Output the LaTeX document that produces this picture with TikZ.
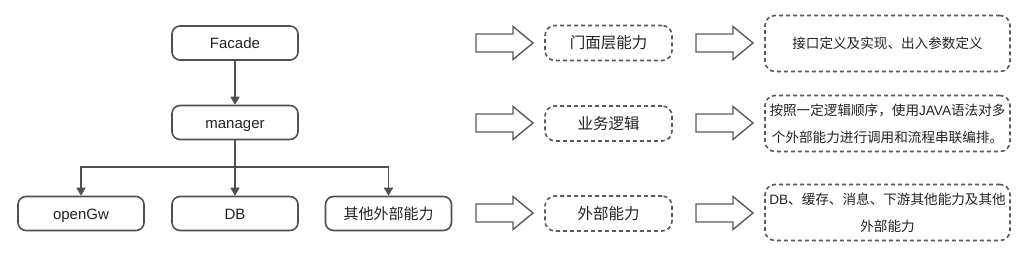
\documentclass[tikz,border=0pt]{standalone}
\usepackage{fontspec}
\setmainfont{Noto Sans CJK SC}
\newfontfamily\latf{Liberation Sans}
\usetikzlibrary{arrows.meta}
\definecolor{ln}{HTML}{505050}
\definecolor{dl}{HTML}{5A5A5A}
\definecolor{tx}{HTML}{222222}
\begin{document}
\begin{tikzpicture}[x=1pt,y=-1pt,
  solidbox/.style={draw=ln,line width=1.6pt,rounded corners=8pt,minimum width=126pt,minimum height=34pt,inner sep=0pt,text height=12pt,text depth=0pt,text=tx,font=\fontsize{15}{17}\selectfont},
  dashbox/.style={draw=dl,line width=1.6pt,dash pattern=on 4pt off 3pt,rounded corners=10pt,inner sep=0pt,text=tx},
  midbox/.style={dashbox,minimum width=127pt,minimum height=35pt,font=\fontsize{15.5}{17}\selectfont},
  rightbox/.style={dashbox,minimum width=245pt,minimum height=56pt,align=center,font=\fontsize{13.6}{27}\selectfont},
  hollow/.style={draw=dl,line width=1.4pt,line join=miter},
  conn/.style={draw=ln,line width=1.7pt,-{Triangle[length=8pt,width=9pt]}}]
\useasboundingbox (0,0) rectangle (1022,253);
% left tree
\node[solidbox] (facade) at (235,43) {\latf Facade};
\node[solidbox] (manager) at (235,122.5) {\latf manager};
\node[solidbox] (opengw) at (81,213.5) {\latf openGw};
\node[solidbox] (db) at (235,213.5) {\latf DB};
\node[solidbox] (other) at (388.5,213.5) {其他外部能力};
\coordinate (split) at (235,167);
\draw[conn] (facade) -- (manager);
\draw[conn] (manager) -- (db);
\draw[conn] (manager.south) -- (split) -| (opengw.north);
\draw[conn] (split) -| (other.north);
% hollow arrows
\foreach \x/\y in {476/43,476/123,476/213,696/43,696/123,696/213}{
  \draw[hollow] (\x,\y-9) -- ++(37,0) -- ++(0,-7.5) -- (\x+57,\y) -- (\x+37,\y+16.5) -- ++(0,-7.5) -- (\x,\y+9) -- cycle;
}
% middle boxes
\node[midbox] (m1) at (608.5,43) {门面层能力};
\node[midbox] (m2) at (608.5,123.5) {业务逻辑};
\node[midbox] (m3) at (608.5,213.5) {外部能力};
% right boxes
\node[rightbox] (r1) at (887.5,43.5) {接口定义及实现、出入参数定义};
\node[rightbox] (r2) at (887.5,123.5) {按照一定逻辑顺序，使用{\latf JAVA}语法对多\\个外部能力进行调用和流程串联编排。};
\node[rightbox] (r3) at (887.5,212.5) {{\latf DB}、缓存、消息、下游其他能力及其他\\外部能力};
\end{tikzpicture}
\end{document}
